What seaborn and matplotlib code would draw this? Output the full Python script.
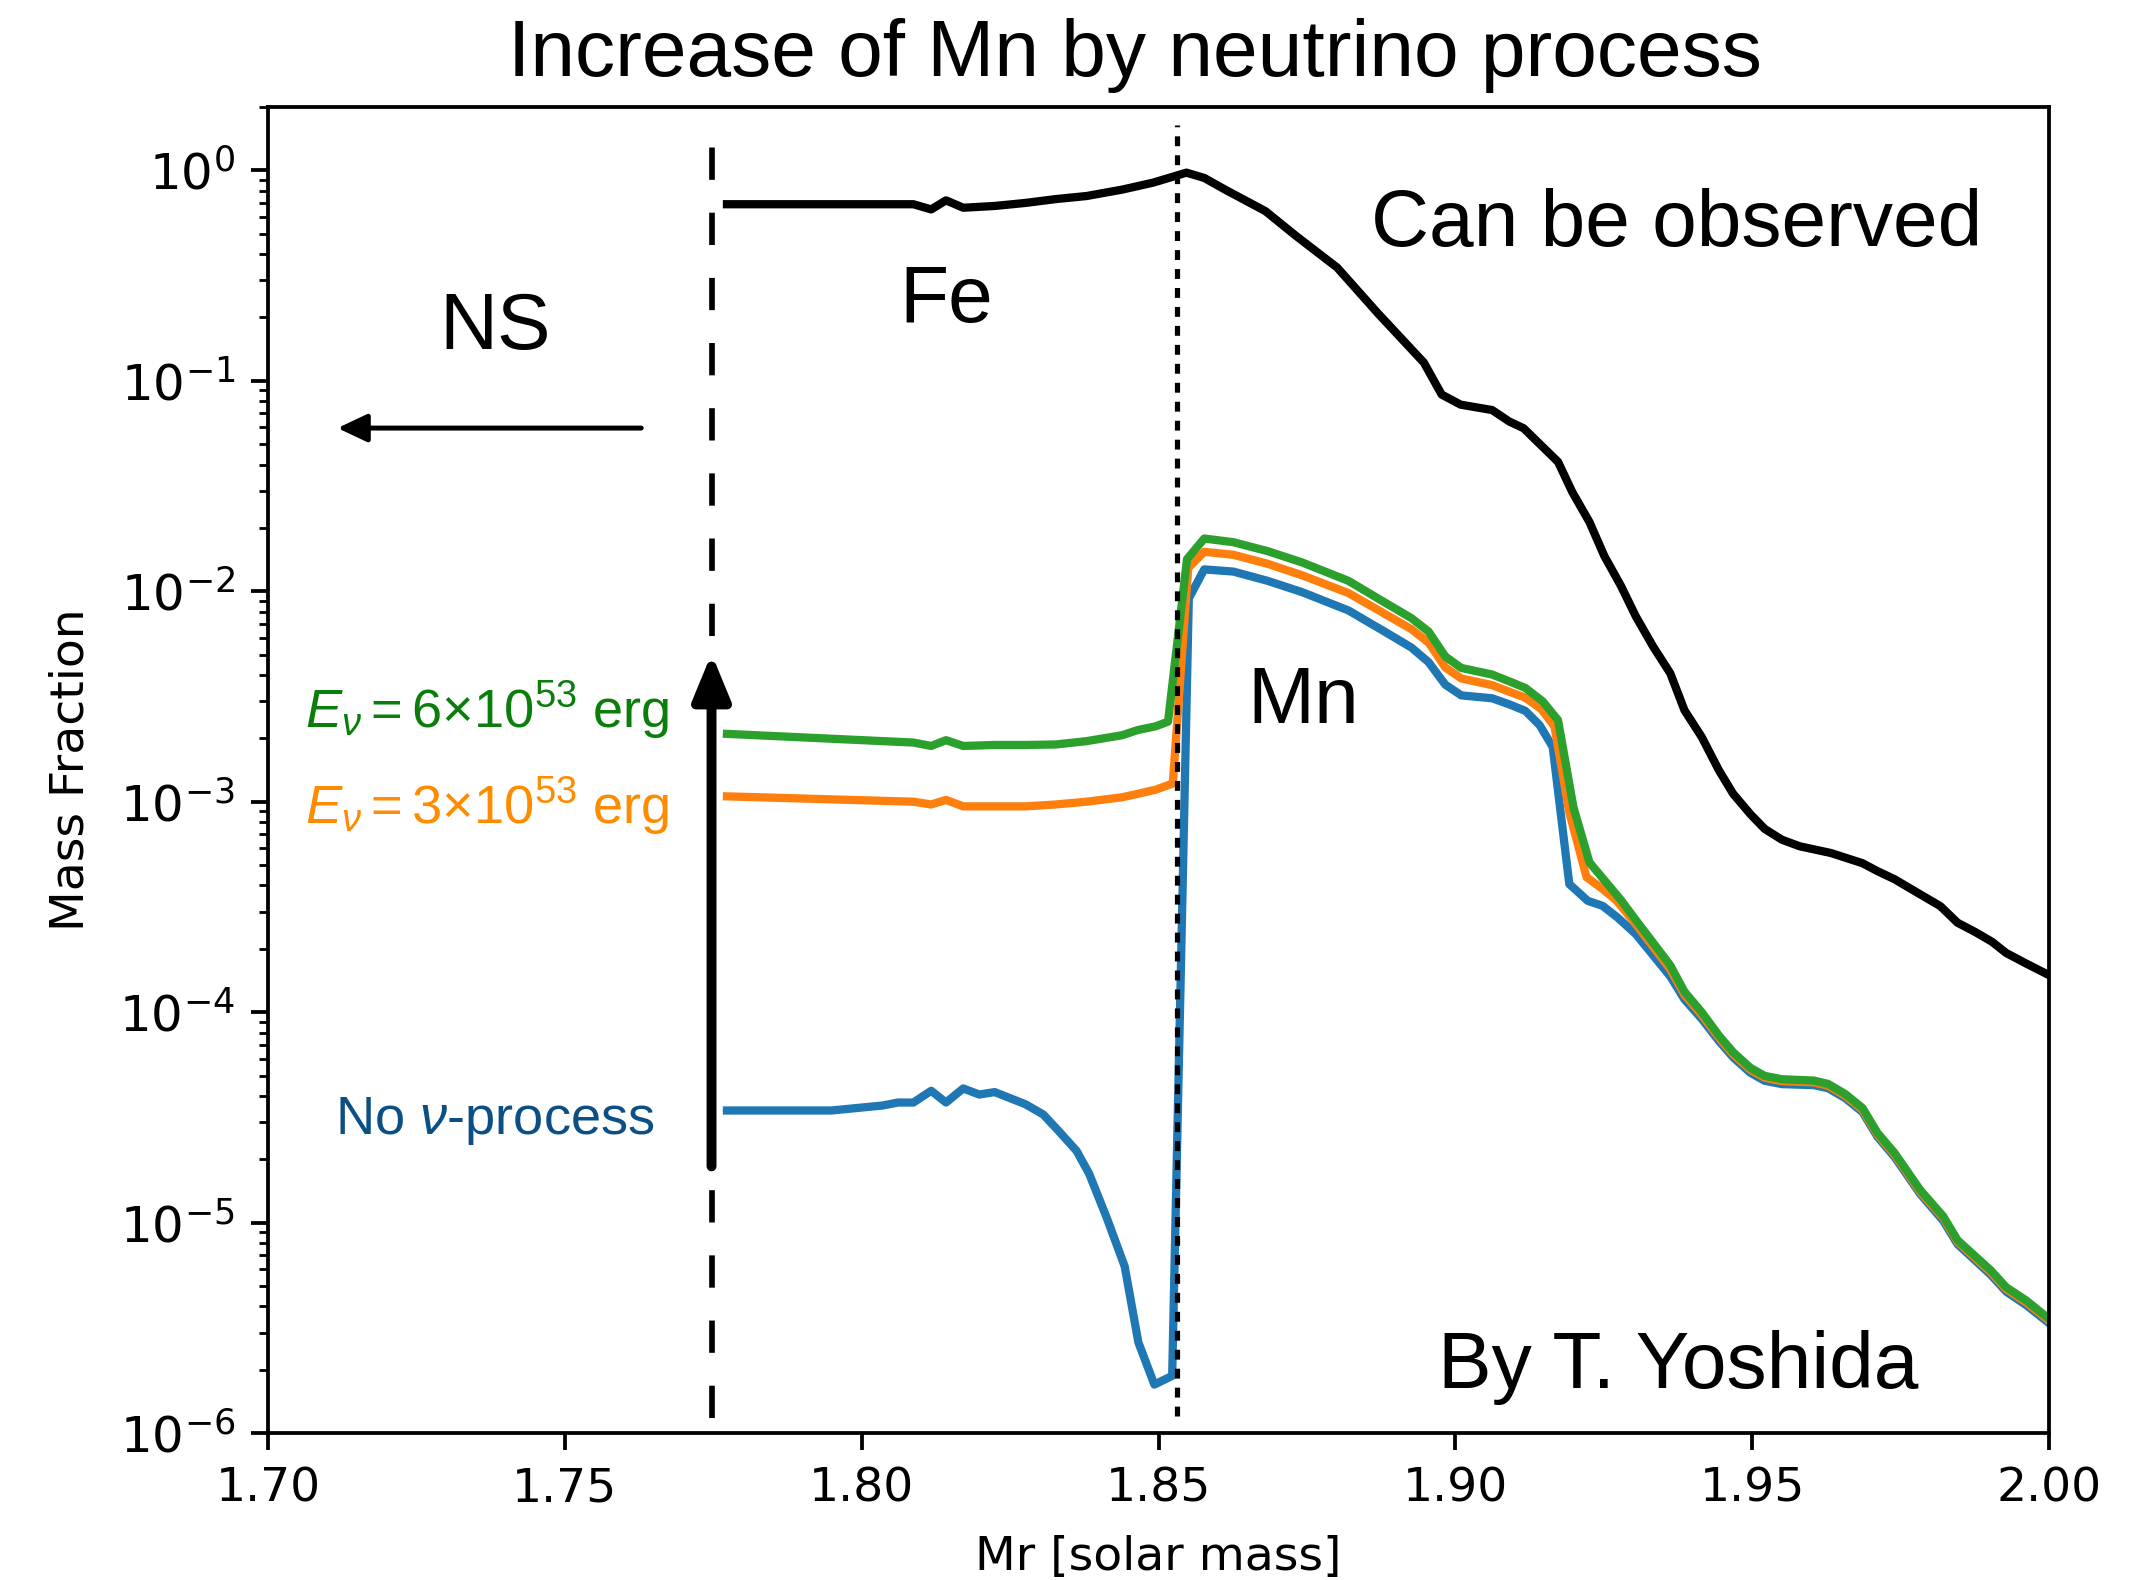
import matplotlib
matplotlib.use("Agg")
import matplotlib.pyplot as plt
from matplotlib.ticker import FormatStrFormatter
import seaborn as sns

# ---------------- data ----------------
fe_mr = [1.7773, 1.7950, 1.8087, 1.8117, 1.8142, 1.8171, 1.8224, 1.8276, 1.8327,
         1.8379, 1.8439, 1.8491, 1.8547, 1.8577, 1.8612, 1.8680, 1.8732, 1.8801,
         1.8869, 1.8947, 1.8977, 1.9009, 1.9062, 1.9091, 1.9115, 1.9144, 1.9173,
         1.9197, 1.9226, 1.9251, 1.9279, 1.9304, 1.9333, 1.9362, 1.9386, 1.9415,
         1.9444, 1.9468, 1.9497, 1.9521, 1.9550, 1.9580, 1.9633, 1.9686, 1.9711,
         1.9740, 1.9778, 1.9817, 1.9846, 1.9875, 1.9904, 1.9928, 1.9962, 2.0000]
fe_x = [0.690, 0.690, 0.690, 0.652, 0.720, 0.664, 0.677, 0.700, 0.730,
        0.755, 0.810, 0.874, 0.975, 0.920, 0.810, 0.640, 0.487, 0.345,
        0.210, 0.122, 0.086, 0.077, 0.0726, 0.064, 0.0595, 0.0495, 0.0412,
        0.0296, 0.0213, 0.0147, 0.0106, 0.0076, 0.00547, 0.00408, 0.00272, 0.00203,
        0.00141, 0.00109, 0.000873, 0.000743, 0.00066, 0.000614, 0.00057, 0.00051, 0.000468,
        0.000428, 0.00037, 0.000319, 0.000266, 0.000241, 0.000216, 0.000191, 0.00017, 0.00015]

mn6_mr = [1.7773, 1.8087, 1.8117, 1.8142, 1.8171, 1.8224, 1.8276, 1.8327, 1.8379,
          1.8439, 1.8465, 1.8495, 1.8516, 1.8548, 1.8577, 1.8626, 1.8684, 1.8742,
          1.8820, 1.8878, 1.8926, 1.8955, 1.8983, 1.9010, 1.9062, 1.9091, 1.9118,
          1.9147, 1.9173, 1.9199, 1.9226, 1.9279, 1.9304, 1.9362, 1.9386, 1.9415,
          1.9444, 1.9468, 1.9497, 1.9521, 1.9550, 1.9604, 1.9628, 1.9657, 1.9686,
          1.9711, 1.9740, 1.9783, 1.9822, 1.9846, 1.9902, 1.9928, 1.9962, 2.0000]
mn6_x = [0.0021, 0.00191, 0.00184, 0.00196, 0.00184, 0.00186, 0.00186, 0.00187, 0.00194,
         0.00207, 0.00219, 0.00228, 0.0024, 0.0142, 0.0178, 0.0171, 0.0155, 0.0137,
         0.0112, 0.00895, 0.00745, 0.00643, 0.0049, 0.00432, 0.00402, 0.00373, 0.00347,
         0.0030, 0.00244, 0.00094, 0.000514, 0.000341, 0.000274, 0.000167, 0.000125, 0.0001,
         7.74e-5, 6.45e-5, 5.44e-5, 4.98e-5, 4.8e-5, 4.73e-5, 4.56e-5, 4.08e-5, 3.5e-5,
         2.67e-5, 2.14e-5, 1.43e-5, 1.07e-5, 8.25e-6, 5.93e-6, 4.93e-6, 4.26e-6, 3.49e-6]

mn3_mr = [1.7773, 1.8087, 1.8117, 1.8142, 1.8171, 1.8224, 1.8276, 1.8327, 1.8379,
          1.8439, 1.8465, 1.8495, 1.8524, 1.8550, 1.8577, 1.8626, 1.8684, 1.8742,
          1.8820, 1.8878, 1.8926, 1.8955, 1.8983, 1.9010, 1.9062, 1.9091, 1.9118,
          1.9145, 1.9167, 1.9192, 1.9221, 1.9248, 1.9272, 1.9304, 1.9362, 1.9386,
          1.9415, 1.9444, 1.9468, 1.9497, 1.9521, 1.9550, 1.9604, 1.9628, 1.9657,
          1.9686, 1.9711, 1.9740, 1.9783, 1.9822, 1.9846, 1.9902, 1.9928, 1.9962, 2.0000]
mn3_x = [0.00106, 0.00100, 0.00097, 0.00102, 0.00095, 0.00095, 0.00095, 0.00097, 0.00100,
         0.00105, 0.00109, 0.00114, 0.00122, 0.0129, 0.0154, 0.0149, 0.0135, 0.0119,
         0.0098, 0.0079, 0.0066, 0.0057, 0.00435, 0.00385, 0.00358, 0.00333, 0.00312,
         0.00275, 0.00228, 0.00089, 0.000438, 0.000385, 0.000338, 0.000262, 0.000160, 0.000121,
         9.7e-5, 7.55e-5, 6.3e-5, 5.32e-5, 4.88e-5, 4.7e-5, 4.64e-5, 4.47e-5, 4.0e-5,
         3.43e-5, 2.62e-5, 2.10e-5, 1.40e-5, 1.05e-5, 8.1e-6, 5.8e-6, 4.83e-6, 4.17e-6, 3.42e-6]

mn0_mr = [1.7773, 1.7949, 1.8035, 1.8061, 1.8087, 1.8117, 1.8142, 1.8171, 1.8198,
          1.8224, 1.8276, 1.8306, 1.8332, 1.8362, 1.8383, 1.8413, 1.8443, 1.8466,
          1.8493, 1.8523, 1.8551, 1.8577, 1.8626, 1.8684, 1.8742, 1.8820, 1.8878,
          1.8926, 1.8955, 1.8983, 1.9010, 1.9062, 1.9091, 1.9118, 1.9142, 1.9164,
          1.9192, 1.9223, 1.9248, 1.9273, 1.9304, 1.9362, 1.9386, 1.9415, 1.9444,
          1.9468, 1.9497, 1.9521, 1.9550, 1.9604, 1.9628, 1.9657, 1.9686, 1.9711,
          1.9740, 1.9783, 1.9822, 1.9846, 1.9902, 1.9928, 1.9962, 2.0000]
mn0_x = [3.41e-5, 3.41e-5, 3.6e-5, 3.72e-5, 3.72e-5, 4.23e-5, 3.72e-5, 4.34e-5, 4.06e-5,
         4.17e-5, 3.65e-5, 3.26e-5, 2.72e-5, 2.19e-5, 1.71e-5, 1.05e-5, 6.19e-6, 2.7e-6,
         1.7e-6, 1.87e-6, 0.00925, 0.0127, 0.0124, 0.0112, 0.0099, 0.0081, 0.0065,
         0.0054, 0.0046, 0.0036, 0.0032, 0.0031, 0.0029, 0.0027, 0.00231, 0.00182,
         0.000406, 0.000338, 0.00032, 0.000282, 0.000235, 0.000148, 0.000115, 9.3e-5, 7.3e-5,
         6.1e-5, 5.15e-5, 4.72e-5, 4.55e-5, 4.5e-5, 4.35e-5, 3.9e-5, 3.35e-5, 2.56e-5,
         2.05e-5, 1.37e-5, 1.02e-5, 7.9e-6, 5.65e-6, 4.7e-6, 4.05e-6, 3.33e-6]

x_ticks = [1.70, 1.75, 1.80, 1.85, 1.90, 1.95, 2.00]
title = "Increase of Mn by neutrino process"
x_label = "Mr [solar mass]"
y_label = "Mass Fraction"

# reference markers
ns_edge = 1.7747     # dashed boundary (mass cut)
fe_edge = 1.8531     # dotted boundary

# ---------------- styling ----------------
plt.rcParams["mathtext.fontset"] = "dejavusans"
plt.rcParams["mathtext.rm"] = "Liberation Sans"
plt.rcParams["mathtext.it"] = "Liberation Sans:italic"
plt.rcParams["mathtext.bf"] = "Liberation Sans:bold"
plt.rcParams["mathtext.sf"] = "Liberation Sans"

DPI = 340
fig = plt.figure(figsize=(2150 / DPI, 1580 / DPI), dpi=DPI)
ax = fig.add_axes([0.1247, 0.0930, 0.953 - 0.1247, 0.9323 - 0.0930])
ax.set_yscale("log")

LW = 1.75
series = [
    (fe_mr, fe_x, "black"),
    (mn0_mr, mn0_x, "#1f77b4"),
    (mn3_mr, mn3_x, "#ff7f0e"),
    (mn6_mr, mn6_x, "#2ca02c"),
]
for xs, ys, col in series:
    sns.lineplot(x=xs, y=ys, color=col, lw=LW, ax=ax, sort=False, estimator=None)

# boundaries
ax.plot([ns_edge, ns_edge], [1.18e-6, 1.78], color="black", lw=1.2,
        dashes=(5.7, 5.8), zorder=5)
ax.plot([fe_edge, fe_edge], [1.2e-6, 1.65], color="black", lw=1.1,
        dashes=(1.9, 1.75), zorder=5)

ax.set_xlim(1.70, 2.00)
ax.set_ylim(1e-6, 2.0)
ax.set_xticks(x_ticks)
ax.xaxis.set_major_formatter(FormatStrFormatter("%.2f"))
ax.tick_params(axis="y", which="major", labelsize=10.6)
ax.set_xlabel(x_label, labelpad=5)
ax.set_ylabel(y_label, labelpad=5.5)
ax.set_title(title, fontsize=17, family="Liberation Sans", pad=6.5, x=0.487)

big = dict(fontsize=17, family="Liberation Sans", ha="center", va="baseline")
ax.text(1.7382, 0.1421, "NS", **big)
ax.text(1.81426, 0.1905, "Fe", **big)
ax.text(1.93734, 0.4375, "Can be observed", **big)
ax.text(1.87435, 0.002354, "Mn", **big)
ax.text(1.93752, 1.637e-6, "By T. Yoshida", **big)

small = dict(fontsize=11.5, family="Liberation Sans", va="baseline",
             math_fontfamily="custom")
ax.text(1.76762, 0.002239, r"$E_\nu = 6{\times}10^{53}$ erg", color="#0a7d0a",
        ha="right", **small)
ax.text(1.76762, 0.000791, r"$E_\nu = 3{\times}10^{53}$ erg", color="#ff8c00",
        ha="right", **small)
ax.text(1.73823, 2.64e-5, r"No $\nu$-process", color="#0b4f85",
        ha="center", **small)

# arrows
ax.annotate("", xy=(1.71169, 0.0596), xytext=(1.76285, 0.0596),
            arrowprops=dict(arrowstyle="-|>,head_length=0.53,head_width=0.25",
                            color="black", lw=1.05, shrinkA=0, shrinkB=0,
                            mutation_scale=10))
ax.annotate("", xy=(ns_edge, 0.00505), xytext=(ns_edge, 1.85e-5),
            arrowprops=dict(arrowstyle="-|>,head_length=0.8,head_width=0.33",
                            color="black", lw=2.1, shrinkA=0, shrinkB=0,
                            mutation_scale=10), zorder=6)

fig.savefig("out.png", dpi=DPI)
